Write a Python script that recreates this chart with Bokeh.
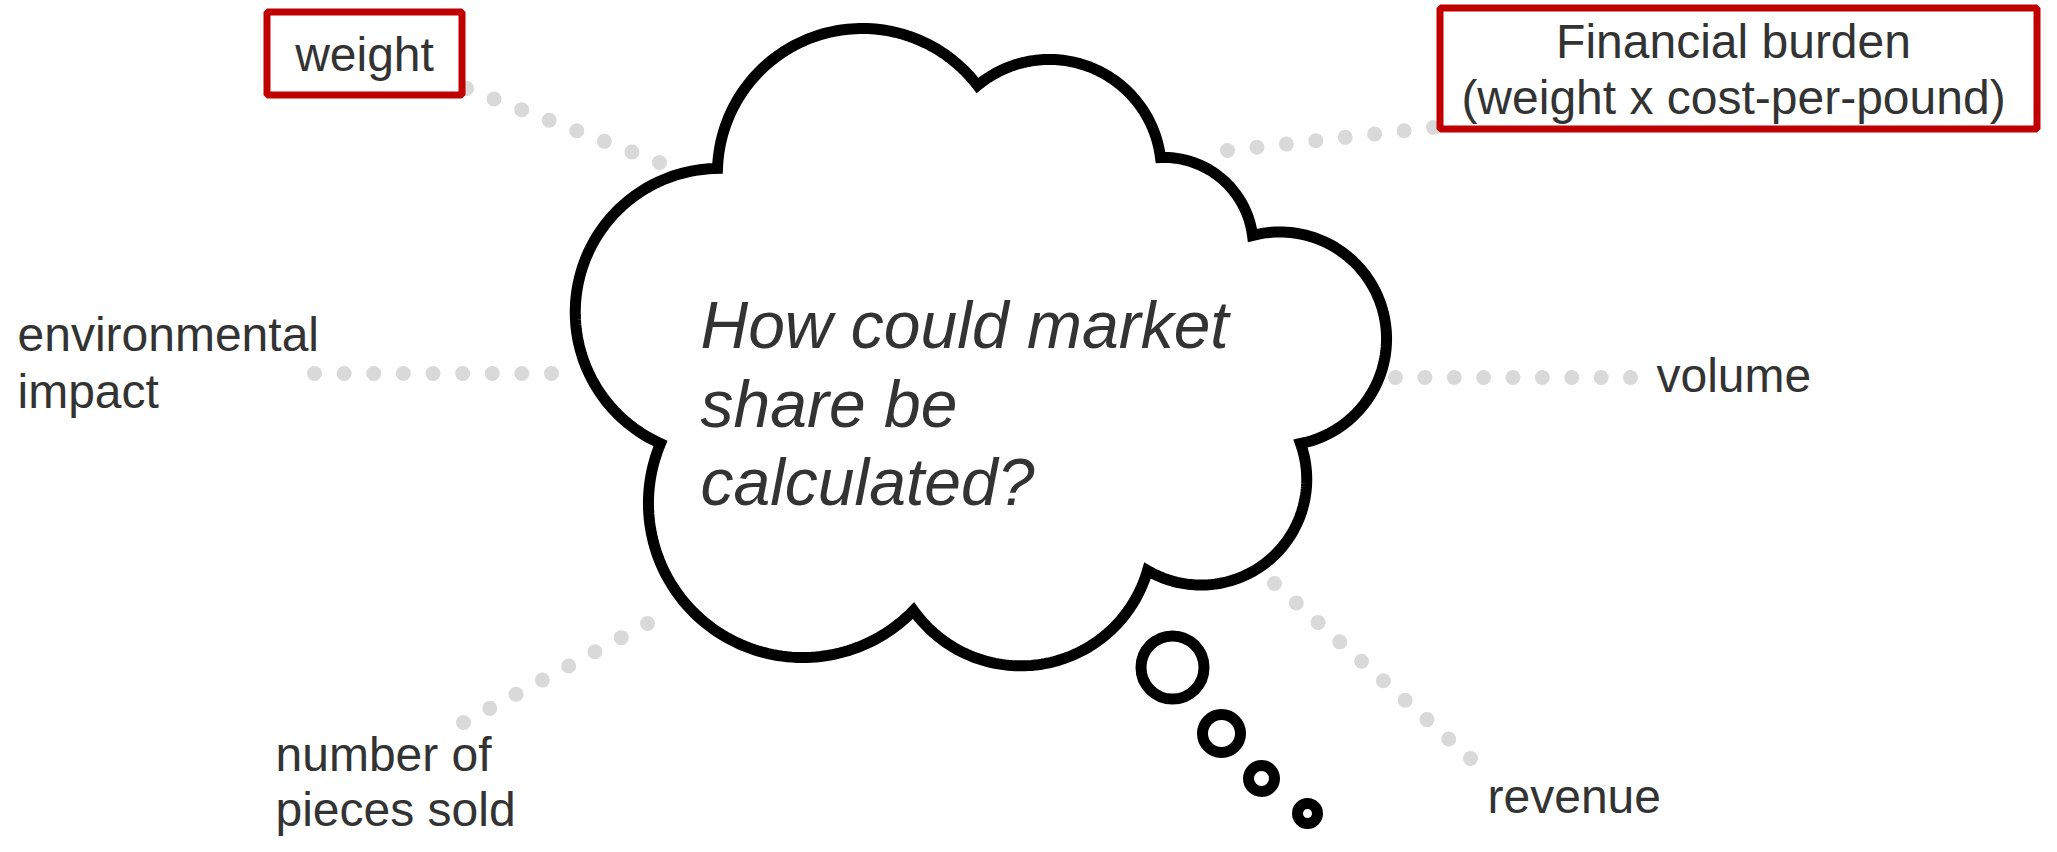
import numpy as np
from bokeh.plotting import figure
from bokeh.models import Range1d
from bokeh.core.properties import value
from bokeh.embed import file_html
from bokeh.resources import INLINE

# ---------------- data (pixel positions of the diagram, from top-left) ----------------
question_lines = ["How could market", "share be", "calculated?"]
question_x = [700, 700, 700]
question_y = [348, 427, 505]          # baselines

labels = ["environmental", "impact", "volume", "number of", "pieces sold", "revenue"]
label_x = [17, 17, 1656, 275, 275, 1487]
label_y = [351, 408, 392, 771, 826, 813]   # baselines

boxed_labels = ["weight", "Financial burden", "(weight x cost-per-pound)"]
boxed_x = [364, 1733, 1733]
boxed_y = [71, 58, 114]               # baselines

box_left = [266.5, 1439.5]
box_right = [461.5, 2036.5]
box_top = [11.5, 7.5]
box_bottom = [94.5, 128.5]

connector_start_x = [466, 1227, 314, 1395, 647, 1274]
connector_start_y = [88, 150, 373, 377, 623, 583]
connector_end_x = [659, 1433, 551, 1630, 463, 1470]
connector_end_y = [162, 127, 373, 377, 722, 758]
connector_dots = [8, 8, 9, 9, 8, 10]

cloud_cusp_x = [717, 977, 1160, 1252, 1300, 1147, 913, 660]
cloud_cusp_y = [168, 85, 157, 235, 443, 570, 610, 443]
cloud_peak_x = [862, 1052, 1213, 1386, 1293, 1045, 803, 575]
cloud_peak_y = [28, 59, 172, 335, 530, 663, 657, 320]

bubble_x = [1172, 1221, 1261, 1307]
bubble_y = [667, 733, 778, 813]
bubble_r = [31.5, 19, 13, 10]

# ---------------- layout ----------------
W, H = 2041, 836
TEXT = "#333333"
RED = "#C00000"
DOT = "#D9D9D9"
FONT = "Liberation Sans"
LABEL_SIZE = 48
QUESTION_SIZE = 66
BASELINE_SHIFT = 0.35   # renderer places 'alphabetic' text about this many ems low


def Y(ys):
    return H - np.asarray(ys, dtype=float)


def TY(ys, size):
    return Y(np.asarray(ys, dtype=float) - BASELINE_SHIFT * size)


def arc3(p0, pm, p1, n=90):
    (x0, y0), (xm, ym), (x1, y1) = p0, pm, p1
    a = np.array([[2 * (xm - x0), 2 * (ym - y0)], [2 * (x1 - xm), 2 * (y1 - ym)]], float)
    b = np.array([xm**2 + ym**2 - x0**2 - y0**2, x1**2 + y1**2 - xm**2 - ym**2], float)
    cx, cy = np.linalg.solve(a, b)
    r = np.hypot(x0 - cx, y0 - cy)
    a0 = np.arctan2(y0 - cy, x0 - cx)
    am = np.arctan2(ym - cy, xm - cx)
    a1 = np.arctan2(y1 - cy, x1 - cx)
    d1 = (a1 - a0) % (2 * np.pi)
    dm = (am - a0) % (2 * np.pi)
    if dm <= d1:
        ang = a0 + np.linspace(0, d1, n)
    else:
        ang = a0 - np.linspace(0, 2 * np.pi - d1, n)
    return cx + r * np.cos(ang), cy + r * np.sin(ang)


p = figure(width=W, height=H, x_range=Range1d(0, W), y_range=Range1d(0, H),
           output_backend="svg", toolbar_location=None, min_border=0,
           x_axis_location=None, y_axis_location=None, outline_line_color=None,
           background_fill_color="white", border_fill_color="white")
p.grid.visible = False

# dotted connectors
dx, dy = [], []
for sx, sy, ex, ey, n in zip(connector_start_x, connector_start_y, connector_end_x,
                             connector_end_y, connector_dots):
    dx.extend(np.linspace(sx, ex, n))
    dy.extend(np.linspace(sy, ey, n))
p.scatter(dx, Y(dy), size=15, fill_color=DOT, line_color=None)

# cloud outline
cx_all, cy_all = [], []
nc = len(cloud_cusp_x)
for i in range(nc):
    j = (i + 1) % nc
    ax, ay = arc3((cloud_cusp_x[i], cloud_cusp_y[i]), (cloud_peak_x[i], cloud_peak_y[i]),
                  (cloud_cusp_x[j], cloud_cusp_y[j]))
    cx_all.extend(ax)
    cy_all.extend(ay)
p.patch(cx_all, Y(cy_all), fill_color="white", line_color="black", line_width=11,
        line_join="miter")

# thought bubbles
p.circle(bubble_x, Y(bubble_y), radius=bubble_r, fill_color="white",
         line_color="black", line_width=11)

# red boxes
p.quad(left=box_left, right=box_right, top=Y(box_top), bottom=Y(box_bottom),
       fill_color="white", line_color=RED, line_width=7)

# texts
p.text(question_x, TY(question_y, QUESTION_SIZE), text=question_lines, text_font=value(FONT),
       text_font_size=value(f"{QUESTION_SIZE}px"), text_font_style="italic", text_color=TEXT,
       text_align="left", text_baseline="alphabetic")
p.text(label_x, TY(label_y, LABEL_SIZE), text=labels, text_font=value(FONT),
       text_font_size=value(f"{LABEL_SIZE}px"), text_color=TEXT,
       text_align="left", text_baseline="alphabetic")
p.text(boxed_x, TY(boxed_y, LABEL_SIZE), text=boxed_labels, text_font=value(FONT),
       text_font_size=value(f"{LABEL_SIZE}px"), text_color=TEXT,
       text_align="center", text_baseline="alphabetic")

open("out.html", "w").write(file_html(p, INLINE))
